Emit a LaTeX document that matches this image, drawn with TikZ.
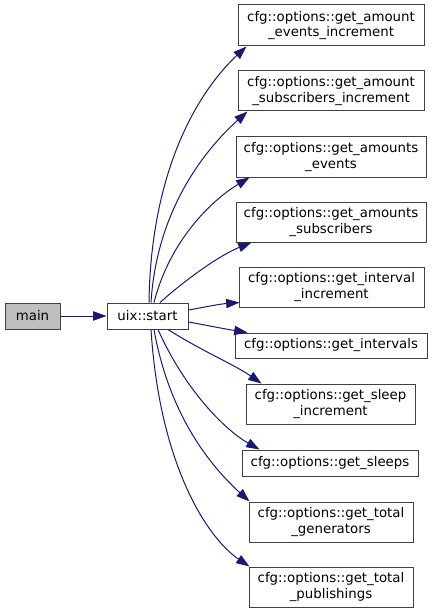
\documentclass[tikz,border=0pt]{standalone}
\usepackage{fontspec}
\setmainfont{DejaVu Sans}
\usetikzlibrary{arrows.meta,calc}
\definecolor{edgeblue}{HTML}{191970}
\definecolor{boxborder}{HTML}{404040}
\definecolor{mainfill}{HTML}{BFBFBF}
\tikzset{
  fnbox/.style={draw=boxborder, line width=0.75pt, fill=white, inner sep=0pt, align=center,
    font=\fontsize{10}{11.5}\selectfont},
  call/.style={draw=edgeblue, line width=0.75pt, -{Triangle[length=10pt,width=7pt]}, edgeblue}
}
\begin{document}
\begin{tikzpicture}[x=0.75pt,y=-0.75pt]
\useasboundingbox (0,0) rectangle (432,613);
\node[fnbox, fill=mainfill, minimum width=41.25pt, minimum height=19.5pt] (main) at (32.5,316) {main};
\node[fnbox, minimum width=60.75pt, minimum height=19.5pt] (start) at (147.5,316) {uix::start};
\node[fnbox, minimum width=139.5pt, minimum height=30.75pt] (t1) at (331,25.5) {cfg::options::get\_amount\\\_events\_increment};
\node[fnbox, minimum width=139.5pt, minimum height=30pt] (t2) at (331,91) {cfg::options::get\_amount\\\_subscribers\_increment};
\node[fnbox, minimum width=142.5pt, minimum height=30pt] (t3) at (331,157) {cfg::options::get\_amounts\\\_events};
\node[fnbox, minimum width=142.5pt, minimum height=30pt] (t4) at (331,222) {cfg::options::get\_amounts\\\_subscribers};
\node[fnbox, minimum width=138.75pt, minimum height=30pt] (t5) at (331.5,287) {cfg::options::get\_interval\\\_increment};
\node[fnbox, minimum width=144pt, minimum height=18.75pt] (t6) at (331,345.5) {cfg::options::get\_intervals};
\node[fnbox, minimum width=126.75pt, minimum height=30pt] (t7) at (330.5,404) {cfg::options::get\_sleep\\\_increment};
\node[fnbox, minimum width=132pt, minimum height=19.5pt] (t8) at (330,463) {cfg::options::get\_sleeps};
\node[fnbox, minimum width=123pt, minimum height=30pt] (t9) at (331,522) {cfg::options::get\_total\\\_generators};
\node[fnbox, minimum width=123pt, minimum height=30pt] (t10) at (331,587) {cfg::options::get\_total\\\_publishings};

\draw[call] (main) -- (start);
\draw[call] ($(start.north)+(1.5,0)$) .. controls (151,160) and (205,85) .. ($(t1.south west)+(9,0)$);
\draw[call] ($(start.north)+(3.5,0)$) .. controls (157,205) and (210,145) .. ($(t2.south west)+(10,0)$);
\draw[call] ($(start.north)+(6.5,0)$) .. controls (170,240) and (212,200) .. ($(t3.south west)+(14,0)$);
\draw[call] ($(start.north)+(12.5,0)$) .. controls (185,280) and (220,255) .. ($(t4.south west)+(16,0)$);
\draw[call] ($(start.east)+(0,-6)$) .. controls (205,307) and (220,304) .. ($(t5.south west)+(1,-5)$);
\draw[call] ($(start.east)+(0,6)$) .. controls (205,325) and (225,329) .. ($(t6.north west)+(13,0)$);
\draw[call] ($(start.south)+(20.5,0)$) .. controls (200,350) and (235,365) .. ($(t7.north west)+(16,0)$);
\draw[call] ($(start.south)+(10.5,0)$) .. controls (185,390) and (225,430) .. ($(t8.north west)+(18,0)$);
\draw[call] ($(start.south)+(6.5,0)$) .. controls (170,420) and (215,470) .. ($(t9.north west)+(1,0)$);
\draw[call] ($(start.south)+(3.5,0)$) .. controls (160,470) and (210,540) .. ($(t10.north west)+(1,0)$);
\end{tikzpicture}
\end{document}
